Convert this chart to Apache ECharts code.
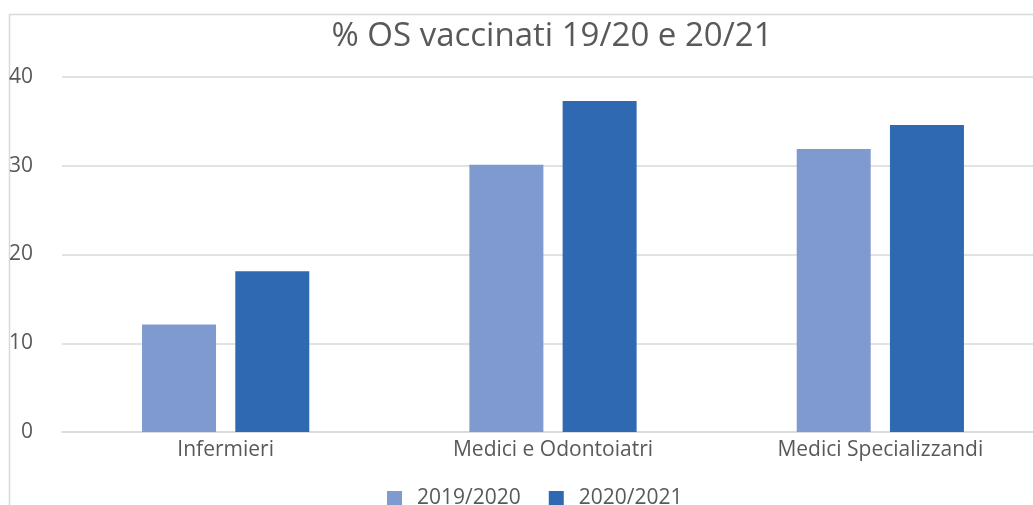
<!DOCTYPE html>
<html><head><meta charset="utf-8">
<script src="https://cdn.jsdelivr.net/npm/echarts@6/dist/echarts.min.js"></script>
<style>html,body{margin:0;padding:0;background:#fff;overflow:hidden}#c{width:1050px;height:505px}</style>
</head><body><div id="c"></div>
<script>
const categories = ['Infermieri', 'Medici e Odontoiatri', 'Medici Specializzandi'];
const seriesNames = ['2019/2020', '2020/2021'];
const values1920 = [12.1, 30.1, 31.9];
const values2021 = [18.1, 37.3, 34.6];
const yTicks = {min: 0, max: 40, interval: 10};
const FONT = 'Open Sans';
const chart = echarts.init(document.getElementById('c'));
chart.setOption({
  animation: false,
  textStyle: {fontFamily: FONT},
  graphic: [{type: 'rect', shape: {x: 9.5, y: 14.5, width: 1100, height: 600}, style: {fill: 'none', stroke: '#d9d9d9', lineWidth: 1.5}, silent: true}],
  title: {text: '% OS vaccinati 19/20 e 20/21', left: 547, textAlign: 'center', top: 15,
    textStyle: {fontFamily: FONT, fontSize: 33, fontWeight: 'normal', color: '#595959'}},
  legend: {data: seriesNames, left: 382, top: 483, itemWidth: 15, itemHeight: 15, itemGap: 28, icon: 'rect',
    textStyle: {fontFamily: FONT, fontSize: 21, color: '#595959', padding: [0,0,0,10]}},
  grid: {left: 62, top: 77, right: 6, height: 355, containLabel: false},
  xAxis: {type: 'category', data: categories,
    axisLine: {lineStyle: {color: '#d9d9d9', width: 1.5}}, axisTick: {show: false},
    axisLabel: {fontFamily: FONT, fontSize: 21, color: '#595959', margin: 8}},
  yAxis: {type: 'value', min: yTicks.min, max: yTicks.max, interval: yTicks.interval,
    axisLine: {show: false}, axisTick: {show: false},
    splitLine: {lineStyle: {color: '#d9d9d9', width: 1.5}},
    axisLabel: {fontFamily: FONT, fontSize: 21, color: '#595959', margin: 29}},
  series: [
    {name: seriesNames[0], type: 'bar', data: values1920, barWidth: 74, barGap: '26%',
      itemStyle: {color: '#7F9ACF'}},
    {name: seriesNames[1], type: 'bar', data: values2021, barWidth: 74,
      itemStyle: {color: '#2F69B2'}}
  ]
});
</script></body></html>
